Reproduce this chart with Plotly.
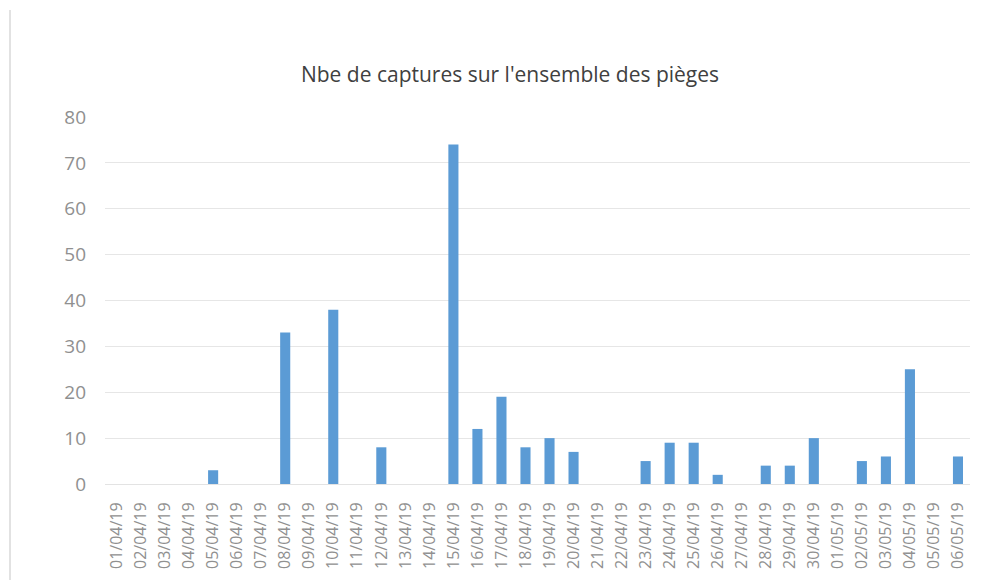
import plotly.graph_objects as go

dates = ["01/04/19","02/04/19","03/04/19","04/04/19","05/04/19","06/04/19","07/04/19","08/04/19",
         "09/04/19","10/04/19","11/04/19","12/04/19","13/04/19","14/04/19","15/04/19","16/04/19",
         "17/04/19","18/04/19","19/04/19","20/04/19","21/04/19","22/04/19","23/04/19","24/04/19",
         "25/04/19","26/04/19","27/04/19","28/04/19","29/04/19","30/04/19","01/05/19","02/05/19",
         "03/05/19","04/05/19","05/05/19","06/05/19"]
captures = [0,0,0,0,3,0,0,33,0,38,0,8,0,0,74,12,19,8,10,7,0,0,5,9,9,2,0,4,4,10,0,5,6,25,0,6]
y_ticks = [0,10,20,30,40,50,60,70,80]

OFF = 8  # page body offset
W, H = 987 - 2 * OFF, 588 - 2 * OFF
ml, mt = 105 - OFF, 117 - OFF
mr = W - (970 - OFF)
mb = H - (484 - OFF)
pw, ph = W - ml - mr, H - mt - mb

fig = go.Figure(go.Bar(x=dates, y=captures, marker=dict(color="#5b9bd5", line=dict(width=0)), width=0.42))

fig.update_layout(
    width=W, height=H,
    margin=dict(l=ml, r=mr, t=mt, b=mb),
    paper_bgcolor="white", plot_bgcolor="white",
    font=dict(family="Open Sans, Liberation Sans, sans-serif", color="#909090"),
    title=dict(text="Nbe de captures sur l'ensemble des pièges", x=(510 - OFF) / W, xanchor="center",
               y=1 - (75 - OFF) / H, yanchor="middle",
               font=dict(size=21, color="#404040", family="Open Sans, sans-serif", weight="normal")),
    showlegend=False,
    bargap=0.58,
)
fig.update_xaxes(type="category", tickangle=-90, tickfont=dict(size=16, color="#909090"),
                 showgrid=False, showline=True, linecolor="#e3e3e3", ticks="", ticklabelstandoff=11)
fig.update_yaxes(range=[0, 80], tickvals=y_ticks,
                 tickfont=dict(size=19, color="#909090", family="Liberation Sans Narrow, Open Sans, sans-serif"),
                 showgrid=True, gridcolor="#e6e6e6", gridwidth=1, zeroline=False, showline=False,
                 ticks="", ticklabelstandoff=18)

# left frame border line
fig.add_shape(type="line", xref="paper", yref="paper",
              x0=(10 - OFF - ml) / pw, x1=(10 - OFF - ml) / pw,
              y0=(H - mb - (10 - OFF)) / ph, y1=(H - mb - H - OFF) / ph,
              line=dict(color="#d9d9d9", width=1.5))

fig.write_html("out.html")
